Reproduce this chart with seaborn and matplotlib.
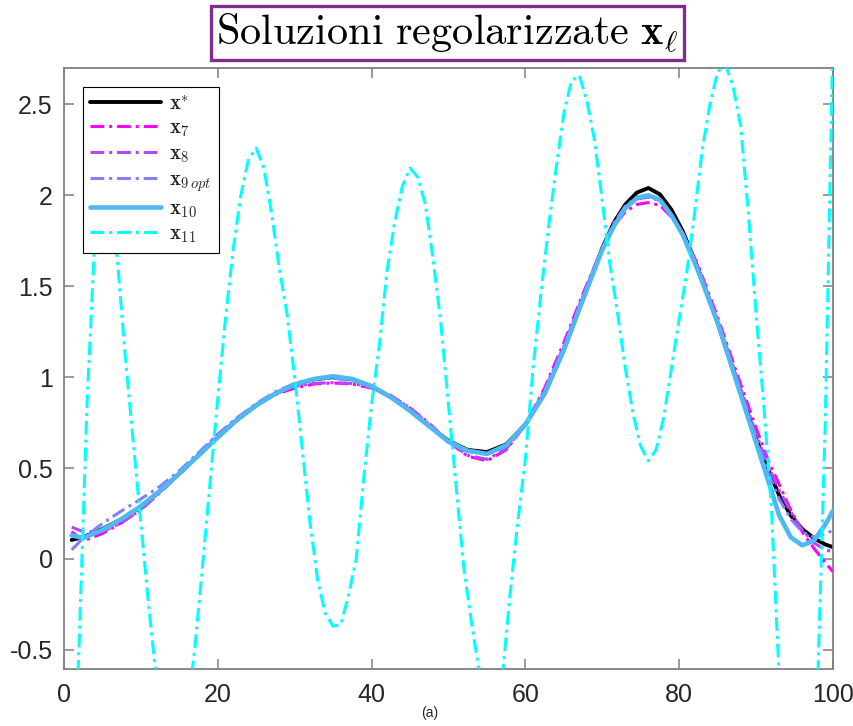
import matplotlib
matplotlib.use("Agg")
import matplotlib.pyplot as plt
from matplotlib import font_manager
import seaborn as sns
import pandas as pd

# ---- data -------------------------------------------------------------
grid = [1, 2.5, 5, 7.5, 10, 12.5, 15, 17.5, 20, 22.5, 25, 27.5, 30, 32.5, 35,
        37.5, 40, 42.5, 45, 47.5, 50, 52.5, 55, 57.5, 60, 62.5, 65, 67.5, 70,
        71.5, 73, 74.5, 76, 77.5, 79, 80.5, 82.5, 85, 87.5, 90, 91.5, 93, 94.5,
        96, 97.5, 99, 100]

x_true = [0.105, 0.12, 0.165, 0.22, 0.29, 0.375, 0.47, 0.57, 0.67, 0.765, 0.845,
          0.91, 0.958, 0.988, 1.0, 0.988, 0.95, 0.89, 0.815, 0.73, 0.65, 0.60,
          0.588, 0.63, 0.74, 0.91, 1.15, 1.43, 1.71,
          1.85, 1.95, 2.015, 2.04, 2.005, 1.92, 1.80, 1.59, 1.30, 0.98, 0.66, 0.50,
          0.35, 0.24, 0.165, 0.115, 0.08, 0.065]

x7 = [0.15, 0.10, 0.14, 0.20, 0.275, 0.37, 0.47, 0.58, 0.685, 0.775, 0.85,
      0.905, 0.94, 0.962, 0.968, 0.962, 0.94, 0.895, 0.83, 0.745, 0.645, 0.565,
      0.54, 0.60, 0.74, 0.94, 1.19, 1.46, 1.71,
      1.83, 1.91, 1.95, 1.96, 1.945, 1.88, 1.79, 1.61, 1.33, 1.02, 0.72, 0.55,
      0.41, 0.27, 0.15, 0.06, -0.02, -0.07]

x8 = [0.175, 0.15, 0.15, 0.20, 0.27, 0.365, 0.465, 0.57, 0.675, 0.77, 0.85,
      0.91, 0.948, 0.966, 0.97, 0.965, 0.945, 0.90, 0.83, 0.74, 0.645, 0.57,
      0.548, 0.605, 0.74, 0.93, 1.17, 1.45, 1.71,
      1.85, 1.94, 1.98, 1.99, 1.97, 1.89, 1.79, 1.60, 1.31, 1.00, 0.69, 0.52,
      0.38, 0.26, 0.16, 0.09, 0.05, 0.04]

x9 = [0.05, 0.115, 0.195, 0.265, 0.33, 0.40, 0.485, 0.585, 0.685, 0.775, 0.855,
      0.92, 0.965, 0.99, 0.995, 0.98, 0.945, 0.89, 0.815, 0.73, 0.65, 0.60,
      0.578, 0.62, 0.74, 0.92, 1.16, 1.44, 1.71,
      1.84, 1.94, 1.99, 2.0, 1.98, 1.89, 1.78, 1.59, 1.29, 0.97, 0.66, 0.48,
      0.33, 0.22, 0.15, 0.12, 0.135, 0.16]

x10 = [0.13, 0.115, 0.16, 0.22, 0.29, 0.375, 0.47, 0.57, 0.67, 0.765, 0.845,
       0.91, 0.96, 0.99, 1.005, 0.99, 0.95, 0.89, 0.815, 0.73, 0.645, 0.595,
       0.578, 0.625, 0.74, 0.91, 1.15, 1.43, 1.70,
       1.83, 1.93, 1.985, 2.0, 1.975, 1.89, 1.78, 1.58, 1.30, 0.97, 0.64, 0.44,
       0.24, 0.12, 0.075, 0.10, 0.19, 0.265]

idx11 = list(range(1, 101))
x11 = [-1.6, -0.43, 0.85, 1.75, 2.15, 2.1, 1.62, 1.1, 0.65, 0.2,
       -0.25, -0.65, -0.95, -1.1, -1.05, -0.85, -0.5, -0.05, 0.42, 0.88,
       1.32, 1.7, 2.0, 2.2, 2.26, 2.15, 1.9, 1.6, 1.35, 1.0,
       0.6, 0.2, -0.12, -0.3, -0.37, -0.36, -0.2, 0.0, 0.45, 0.85,
       1.17, 1.58, 1.85, 2.05, 2.15, 2.1, 1.95, 1.65, 1.3, 0.85,
       0.4, -0.05, -0.35, -0.62, -0.85, -0.9, -0.65, -0.2, 0.2, 0.55,
       1.05, 1.45, 1.82, 2.15, 2.45, 2.63, 2.66, 2.52, 2.3, 1.97,
       1.62, 1.35, 1.05, 0.8, 0.62, 0.54, 0.6, 0.78, 1.05, 1.32,
       1.58, 1.9, 2.25, 2.5, 2.68, 2.72, 2.6, 2.38, 1.9, 1.35,
       0.85, 0.28, -0.65, -1.2, -1.5, -1.5, -1.2, -0.7, 0.75, 2.9]

labels = [r"$\mathbf{x}^{*}$", r"$\mathbf{x}_{7}$", r"$\mathbf{x}_{8}$",
          r"$\mathbf{x}_{9\,opt}$", r"$\mathbf{x}_{10}$", r"$\mathbf{x}_{11}$"]

x_ticks = [0, 20, 40, 60, 80, 100]
y_ticks = [-0.5, 0, 0.5, 1, 1.5, 2, 2.5]
y_tick_labels = ["-0.5", "0", "0.5", "1", "1.5", "2", "2.5"]

# ---- style ------------------------------------------------------------
sns.set_theme(style="white")
installed = {f.name for f in font_manager.fontManager.ttflist}
tick_family = [f for f in ["Liberation Sans Narrow", "Liberation Sans", "DejaVu Sans"]
               if f in installed]
plt.rcParams["font.family"] = tick_family
plt.rcParams["mathtext.fontset"] = "cm"

fig = plt.figure(figsize=(8.54, 7.26), dpi=100)
ax = fig.add_axes([0.0749, 0.0785, 0.9005, 0.8278])

dashdot = (4.5, 1.6, 1.0, 1.6)
styles = [
    dict(color="black", lw=2.8, dashes=None),
    dict(color="#FF00FF", lw=2.2, dashes=dashdot),
    dict(color="#B148F2", lw=2.2, dashes=dashdot),
    dict(color="#8080FF", lw=2.2, dashes=dashdot),
    dict(color="#4DB8F2", lw=3.3, dashes=None),
    dict(color="#00FFFF", lw=2.2, dashes=dashdot),
]
series = [(grid, x_true), (grid, x7), (grid, x8), (grid, x9), (grid, x10), (idx11, x11)]

for i, ((xs, ys), st, lab) in enumerate(zip(series, styles, labels)):
    df = pd.DataFrame({"k": xs, "v": ys})
    sns.lineplot(data=df, x="k", y="v", ax=ax, color=st["color"], lw=st["lw"],
                 label=lab, zorder=2 + i)
    line = ax.lines[-1]
    line.set_solid_joinstyle("round")
    line.set_dash_joinstyle("round")
    if st["dashes"] is not None:
        line.set_dashes(st["dashes"])

ax.set_xlim(0, 100)
ax.set_ylim(-0.605, 2.7)
ax.set_xticks(x_ticks)
ax.set_xticklabels([str(t) for t in x_ticks])
ax.set_yticks(y_ticks)
ax.set_yticklabels(y_tick_labels)
ax.set_xlabel("")
ax.set_ylabel("")

for sp in ax.spines.values():
    sp.set_color("#7f7f7f")
    sp.set_linewidth(1.3)
ax.tick_params(axis="both", which="both", direction="in", length=7, width=1.1,
               color="#7f7f7f", labelsize=18, labelcolor="#262626",
               top=True, right=True, bottom=True, left=True)
ax.tick_params(axis="x", pad=10)
ax.tick_params(axis="y", pad=8)

leg = ax.legend(loc="upper left", bbox_to_anchor=(0.0247, 0.968),
                borderaxespad=0, fontsize=15, frameon=True, fancybox=False,
                edgecolor="black", framealpha=1, handlelength=3.4,
                labelspacing=0.25, handletextpad=0.4, borderpad=0.35)
leg.get_frame().set_linewidth(0.8)
leg.set_zorder(20)

fig.text(0.524, 0.9545, r"$\mathrm{Soluzioni\ regolarizzate}\ \mathbf{x}_{\ell}$",
         ha="center", va="center", fontsize=30.5, color="black",
         bbox=dict(boxstyle="square,pad=0.12", fc="white", ec="#7E2F8E", lw=2.4))

fig.text(0.503, 0.018, "(a)", ha="center", va="center", fontsize=10, color="#262626")

fig.savefig("out.png", dpi=100)
